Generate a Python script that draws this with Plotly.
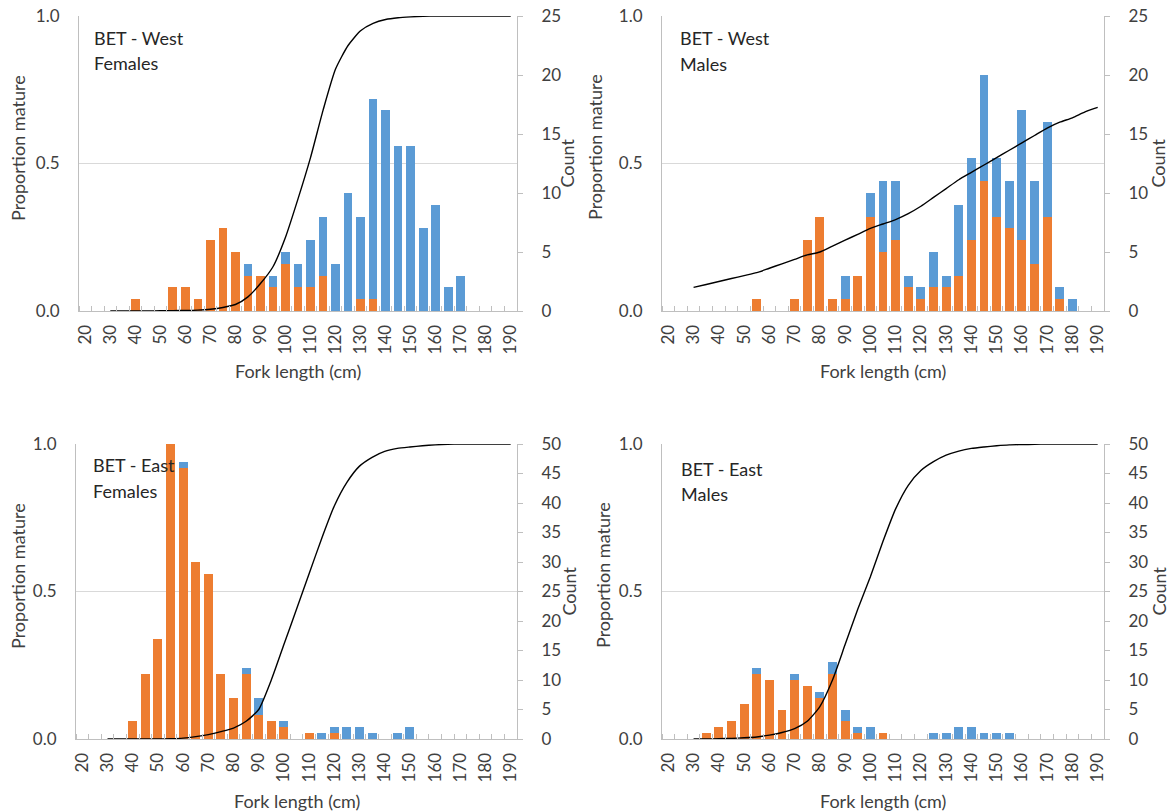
import plotly.graph_objects as go

# ---------------- data ----------------
BINS = [20, 25, 30, 35, 40, 45, 50, 55, 60, 65, 70, 75, 80, 85, 90, 95, 100, 105,
        110, 115, 120, 125, 130, 135, 140, 145, 150, 155, 160, 165, 170, 175, 180, 185, 190]
TICK_LABELS = [20, 30, 40, 50, 60, 70, 80, 90, 100, 110, 120, 130, 140, 150, 160, 170, 180, 190]
CURVE_X = [30, 35, 40, 45, 50, 55, 60, 65, 70, 75, 80, 85, 90, 95, 100, 105, 110, 115,
           120, 125, 130, 135, 140, 145, 150, 155, 160, 165, 170, 175, 180, 185, 190]

# West Females
WF_imm = [0, 0, 0, 0, 1, 0, 0, 2, 2, 1, 6, 7, 5, 3, 3, 2, 4, 2, 2, 3, 0, 0, 1, 1, 0, 0, 0, 0, 0, 0, 0, 0, 0, 0, 0]
WF_mat = [0, 0, 0, 0, 0, 0, 0, 0, 0, 0, 0, 0, 0, 1, 0, 1, 1, 2, 4, 5, 4, 10, 7, 17, 17, 14, 14, 7, 9, 2, 3, 0, 0, 0, 0]
WF_prop = [0.0, 0.0, 0.0, 0.0, 0.001, 0.001, 0.002, 0.003, 0.006, 0.012, 0.022, 0.048, 0.093, 0.15,
           0.25, 0.38, 0.52, 0.68, 0.82, 0.9, 0.95, 0.975, 0.988, 0.994, 0.997, 0.999, 1.0, 1.0,
           1.0, 1.0, 1.0, 1.0, 1.0]

# West Males
WM_imm = [0, 0, 0, 0, 0, 0, 0, 1, 0, 0, 1, 6, 8, 1, 1, 3, 8, 5, 6, 2, 1, 2, 2, 3, 6, 11, 8, 7, 6, 4, 8, 1, 0, 0, 0]
WM_mat = [0, 0, 0, 0, 0, 0, 0, 0, 0, 0, 0, 0, 0, 0, 2, 0, 2, 6, 5, 1, 1, 3, 1, 6, 7, 9, 5, 4, 11, 7, 8, 1, 1, 0, 0]
WM_prop = [0.08, 0.09, 0.10, 0.11, 0.12, 0.13, 0.145, 0.16, 0.175, 0.19, 0.2, 0.22, 0.24, 0.26,
           0.28, 0.295, 0.31, 0.33, 0.355, 0.385, 0.415, 0.445, 0.47, 0.495, 0.52, 0.545, 0.57,
           0.595, 0.62, 0.64, 0.655, 0.675, 0.69]

# East Females
EF_imm = [0, 0, 0, 0, 3, 11, 17, 50, 46, 30, 28, 11, 7, 11, 4, 3, 2, 0, 1, 0, 1, 0, 0, 0, 0, 0, 0, 0, 0, 0, 0, 0, 0, 0, 0]
EF_mat = [0, 0, 0, 0, 0, 0, 0, 0, 1, 0, 0, 0, 0, 1, 3, 0, 1, 0, 0, 1, 1, 2, 2, 1, 0, 1, 2, 0, 0, 0, 0, 0, 0, 0, 0]
EF_prop = [0.0, 0.0, 0.0, 0.0, 0.0, 0.001, 0.003, 0.008, 0.015, 0.025, 0.037, 0.06, 0.1, 0.2,
           0.32, 0.44, 0.56, 0.68, 0.79, 0.87, 0.925, 0.955, 0.975, 0.985, 0.99, 0.994, 0.997,
           0.999, 1.0, 1.0, 1.0, 1.0, 1.0]

# East Males
EM_imm = [0, 0, 0, 1, 2, 3, 6, 11, 10, 5, 10, 9, 7, 11, 3, 1, 0, 1, 0, 0, 0, 0, 0, 0, 0, 0, 0, 0, 0, 0, 0, 0, 0, 0, 0]
EM_mat = [0, 0, 0, 0, 0, 0, 0, 1, 0, 0, 1, 0, 1, 2, 2, 1, 2, 0, 0, 0, 0, 1, 1, 2, 2, 1, 1, 1, 0, 0, 0, 0, 0, 0, 0]
EM_prop = [0.0, 0.0, 0.001, 0.002, 0.004, 0.007, 0.013, 0.022, 0.035, 0.06, 0.11, 0.2, 0.32, 0.44,
           0.55, 0.67, 0.78, 0.86, 0.91, 0.94, 0.962, 0.976, 0.985, 0.99, 0.994, 0.997, 0.998,
           0.999, 1.0, 1.0, 1.0, 1.0, 1.0]

PANELS = [
    ("BET - West", "Females", WF_imm, WF_mat, WF_prop, 25),
    ("BET - West", "Males", WM_imm, WM_mat, WM_prop, 25),
    ("BET - East", "Females", EF_imm, EF_mat, EF_prop, 50),
    ("BET - East", "Males", EM_imm, EM_mat, EM_prop, 50),
]

# ---------------- layout geometry (pixels) ----------------
W, H = 1171, 812
BOX = [  # left, right, top, bottom
    (79, 517, 16, 311),
    (662, 1104, 16, 311),
    (76, 517, 444, 739),
    (662, 1104, 444, 739),
]
TEXT_POS = [(92, 38, 63), (678, 38, 64), (91, 465, 491), (679, 469, 494)]
PROP_TITLE = [(18, 148), (595, 147), (18, 576), (603, 575)]
COUNT_TITLE = [(567, 163.5), (1158, 163.5), (568, 591.5), (1158, 591.5)]

FONT = "Lato, 'Open Sans', sans-serif"
TICK_COLOR = "#404040"
AXIS_LINE = "#BFBFBF"
GRID = "#D9D9D9"
ORANGE = "#ED7D31"
BLUE = "#5B9BD5"

fig = go.Figure()
layout = dict(
    width=W, height=H, margin=dict(l=0, r=0, t=0, b=0, pad=0, autoexpand=False),
    paper_bgcolor="white", plot_bgcolor="white",
    barmode="stack", showlegend=False,
    font=dict(family=FONT, size=17, color=TICK_COLOR),
)
annotations = []

def px(x):
    return x / W

def py(y):
    return 1 - y / H

for k, (t1, t2, imm, mat, prop, cmax) in enumerate(PANELS, start=1):
    l, r, t, b = BOX[k - 1]
    xname = "x" if k == 1 else f"x{k}"
    ycount = "y" if k == 1 else f"y{2 * k - 1}"
    yprop = f"y{2 * k}"

    fig.add_trace(go.Bar(x=BINS, y=imm, xaxis=xname, yaxis=ycount, width=3.5,
                         marker=dict(color=ORANGE, line=dict(width=0)), name="Immature"))
    fig.add_trace(go.Bar(x=BINS, y=mat, xaxis=xname, yaxis=ycount, width=3.5,
                         marker=dict(color=BLUE, line=dict(width=0)), name="Mature"))
    fig.add_trace(go.Scatter(x=CURVE_X, y=prop, xaxis=xname, yaxis=yprop, mode="lines",
                             line=dict(color="black", width=1.4, shape="spline", smoothing=0.6),
                             name="Proportion mature"))

    xkey = "xaxis" if k == 1 else f"xaxis{k}"
    ckey = "yaxis" if k == 1 else f"yaxis{2 * k - 1}"
    pkey = f"yaxis{2 * k}"

    layout[xkey] = dict(
        domain=[px(l), px(r)], anchor=ycount, range=[17.5, 192.5],
        tickmode="array", tickvals=TICK_LABELS, ticktext=[str(v) for v in TICK_LABELS],
        tickangle=-90, ticks="", showgrid=False, zeroline=False,
        showline=True, linecolor=AXIS_LINE, linewidth=1,
        ticklabelstandoff=6,
        tickfont=dict(family=FONT, size=17, color=TICK_COLOR),
        minor=dict(tick0=17.5, dtick=5, ticks="inside", ticklen=5,
                   tickcolor=AXIS_LINE, tickwidth=1, showgrid=False),
        fixedrange=True,
    )
    layout[ckey] = dict(
        domain=[py(b), py(t)], anchor=xname, side="right", range=[0, cmax],
        tickmode="linear", tick0=0, dtick=5, ticks="outside", ticklen=5,
        tickcolor=AXIS_LINE, showgrid=False, zeroline=False,
        showline=True, linecolor=AXIS_LINE, linewidth=1,
        ticklabelstandoff=15,
        tickfont=dict(family=FONT, size=17, color=TICK_COLOR),
        fixedrange=True,
    )
    layout[pkey] = dict(
        overlaying=ycount, anchor=xname, side="left", range=[0, 1],
        tickmode="array", tickvals=[0, 0.5, 1.0], ticktext=["0.0", "0.5", "1.0"],
        ticks="", showgrid=True, gridcolor=GRID, gridwidth=1, zeroline=False,
        showline=True, linecolor=AXIS_LINE, linewidth=1,
        ticklabelstandoff=15,
        tickfont=dict(family=FONT, size=17, color=TICK_COLOR),
        fixedrange=True,
    )

    tx, ty1, ty2 = TEXT_POS[k - 1]
    for txt, yy in ((t1, ty1), (t2, ty2)):
        annotations.append(dict(text=txt, x=px(tx), y=py(yy), xref="paper", yref="paper",
                                xanchor="left", yanchor="middle", showarrow=False,
                                font=dict(family=FONT, size=18, color="#262626")))
    ptx, pty = PROP_TITLE[k - 1]
    annotations.append(dict(text="Proportion mature", x=px(ptx), y=py(pty), xref="paper",
                            yref="paper", xanchor="center", yanchor="middle", textangle=-90,
                            showarrow=False, font=dict(family=FONT, size=18, color=TICK_COLOR)))
    ctx, cty = COUNT_TITLE[k - 1]
    annotations.append(dict(text="Count", x=px(ctx), y=py(cty), xref="paper", yref="paper",
                            xanchor="center", yanchor="middle", textangle=-90, showarrow=False,
                            font=dict(family=FONT, size=18, color=TICK_COLOR)))
    fy = 371 if k <= 2 else 801
    annotations.append(dict(text="Fork length (cm)", x=px((l + r) / 2), y=py(fy), xref="paper",
                            yref="paper", xanchor="center", yanchor="middle", showarrow=False,
                            font=dict(family=FONT, size=18, color=TICK_COLOR)))

layout["annotations"] = annotations
fig.update_layout(**layout)

fig.write_html("out.html", config={"displayModeBar": False},
               post_script="document.body.style.margin='0';document.body.style.overflow='hidden';")
